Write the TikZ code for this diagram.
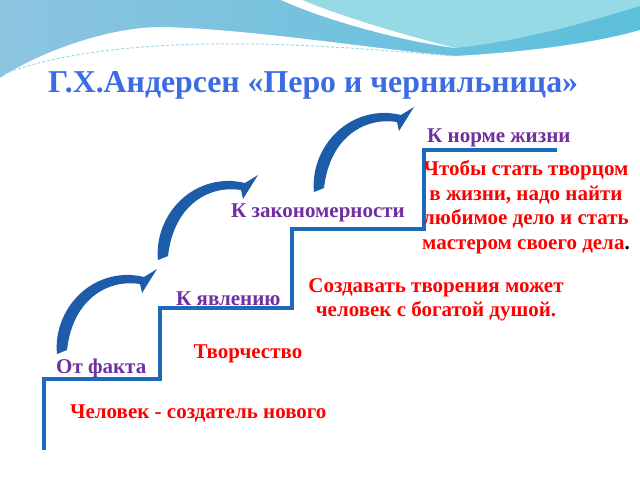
\documentclass[tikz,border=0pt]{standalone}
\usepackage{fontspec}
\setmainfont{Liberation Serif}
\definecolor{stairblue}{RGB}{30,106,186}
\definecolor{arrowblue}{RGB}{28,92,168}
\definecolor{titleblue}{RGB}{60,108,228}
\definecolor{stepviolet}{RGB}{112,48,160}
\definecolor{textred}{RGB}{255,0,0}
\definecolor{waveblue}{RGB}{140,196,224}
\definecolor{wavecyan}{RGB}{92,192,220}
\definecolor{wavelight}{RGB}{150,218,230}
\tikzset{
  steptext/.style={font=\bfseries\fontsize{21}{24.5}\selectfont, inner sep=0pt},
  purpletext/.style={steptext, text=stepviolet},
  redtext/.style={steptext, text=textred},
  pics/bentarrow/.style={code={
    \fill[arrowblue] (-6,2) .. controls (-10,-38) and (22,-79) .. (68,-77)
      .. controls (73,-76.5) and (77,-76) .. (81,-75) -- (94,-83) -- (79,-59) -- (77,-68)
      .. controls (47,-73) and (10,-55) .. (4,-2) -- cycle;
  }}
}
\begin{document}
\begin{tikzpicture}[x=1pt, y=-1pt]
    \useasboundingbox (0,0) rectangle (640,480);
    \fill[white] (0,0) rectangle (640,480);
    % waves at the top
    \shade[left color=waveblue, right color=wavecyan] (0,0) rectangle (640,80);
    \fill[wavelight] (288,0) .. controls (330,20) and (400,42) .. (455,48)
      .. controls (530,40) and (600,18) .. (640,6) -- (640,0) -- cycle;
    \fill[white] (281,0) .. controls (330,22) and (400,40) .. (455,48)
      .. controls (400,34) and (340,16) .. (302,0) -- cycle;
    \fill[white] (0,480) -- (0,78) .. controls (40,52) and (110,26) .. (165,27)
      .. controls (260,30) and (380,50) .. (455,56)
      .. controls (530,52) and (600,42) .. (640,30) -- (640,480) -- cycle;
    \draw[wavecyan!60, dash pattern=on 3pt off 2pt, line width=1pt]
      (4,74) .. controls (60,52) and (150,42) .. (260,44) .. controls (340,46) and (400,52) .. (455,56);
    % title
    \node[anchor=base west, inner sep=0pt, text=titleblue,
      font=\bfseries\fontsize{31.8}{36}\selectfont] (title) at (48,92) {Г.Х.Андерсен «Перо и чернильница»};
    % stairs
    \coordinate (s0) at (44,450);
    \coordinate (s1) at (160,379);
    \coordinate (s2) at (292,308);
    \coordinate (s3) at (424,229);
    \coordinate (s4) at (557,150);
    \draw[stairblue, line width=3.5pt] (s0) |- (s1) |- (s2) |- (s3) |- (s4);
    % arrows
    \pic at (63,352) {bentarrow};
    \pic at (164,258) {bentarrow};
    \pic at (320,190) {bentarrow};
    % steps
    \node[purpletext, anchor=west] (fact) at (56,368) {От факта};
    \node[purpletext, anchor=west] (phen) at (176,299) {К явлению};
    \node[purpletext, anchor=west] (law) at (231,213) {К закономерности};
    \node[purpletext, anchor=west] (norm) at (427,138) {К норме жизни};
    % red texts
    \node[redtext, anchor=west] (maker) at (70,413) {Человек - создатель нового};
    \node[redtext] (creat) at (248,354) {Творчество};
    \node[redtext, align=center] (soul) at (436,300) {Создавать творения может\\человек с богатой душой.};
    \node[redtext, align=center] (goal) at (526,207) {Чтобы стать творцом\\в жизни, надо найти\\любимое дело и стать\\мастером своего дела\textcolor{black}{.}};
\end{tikzpicture}
\end{document}
